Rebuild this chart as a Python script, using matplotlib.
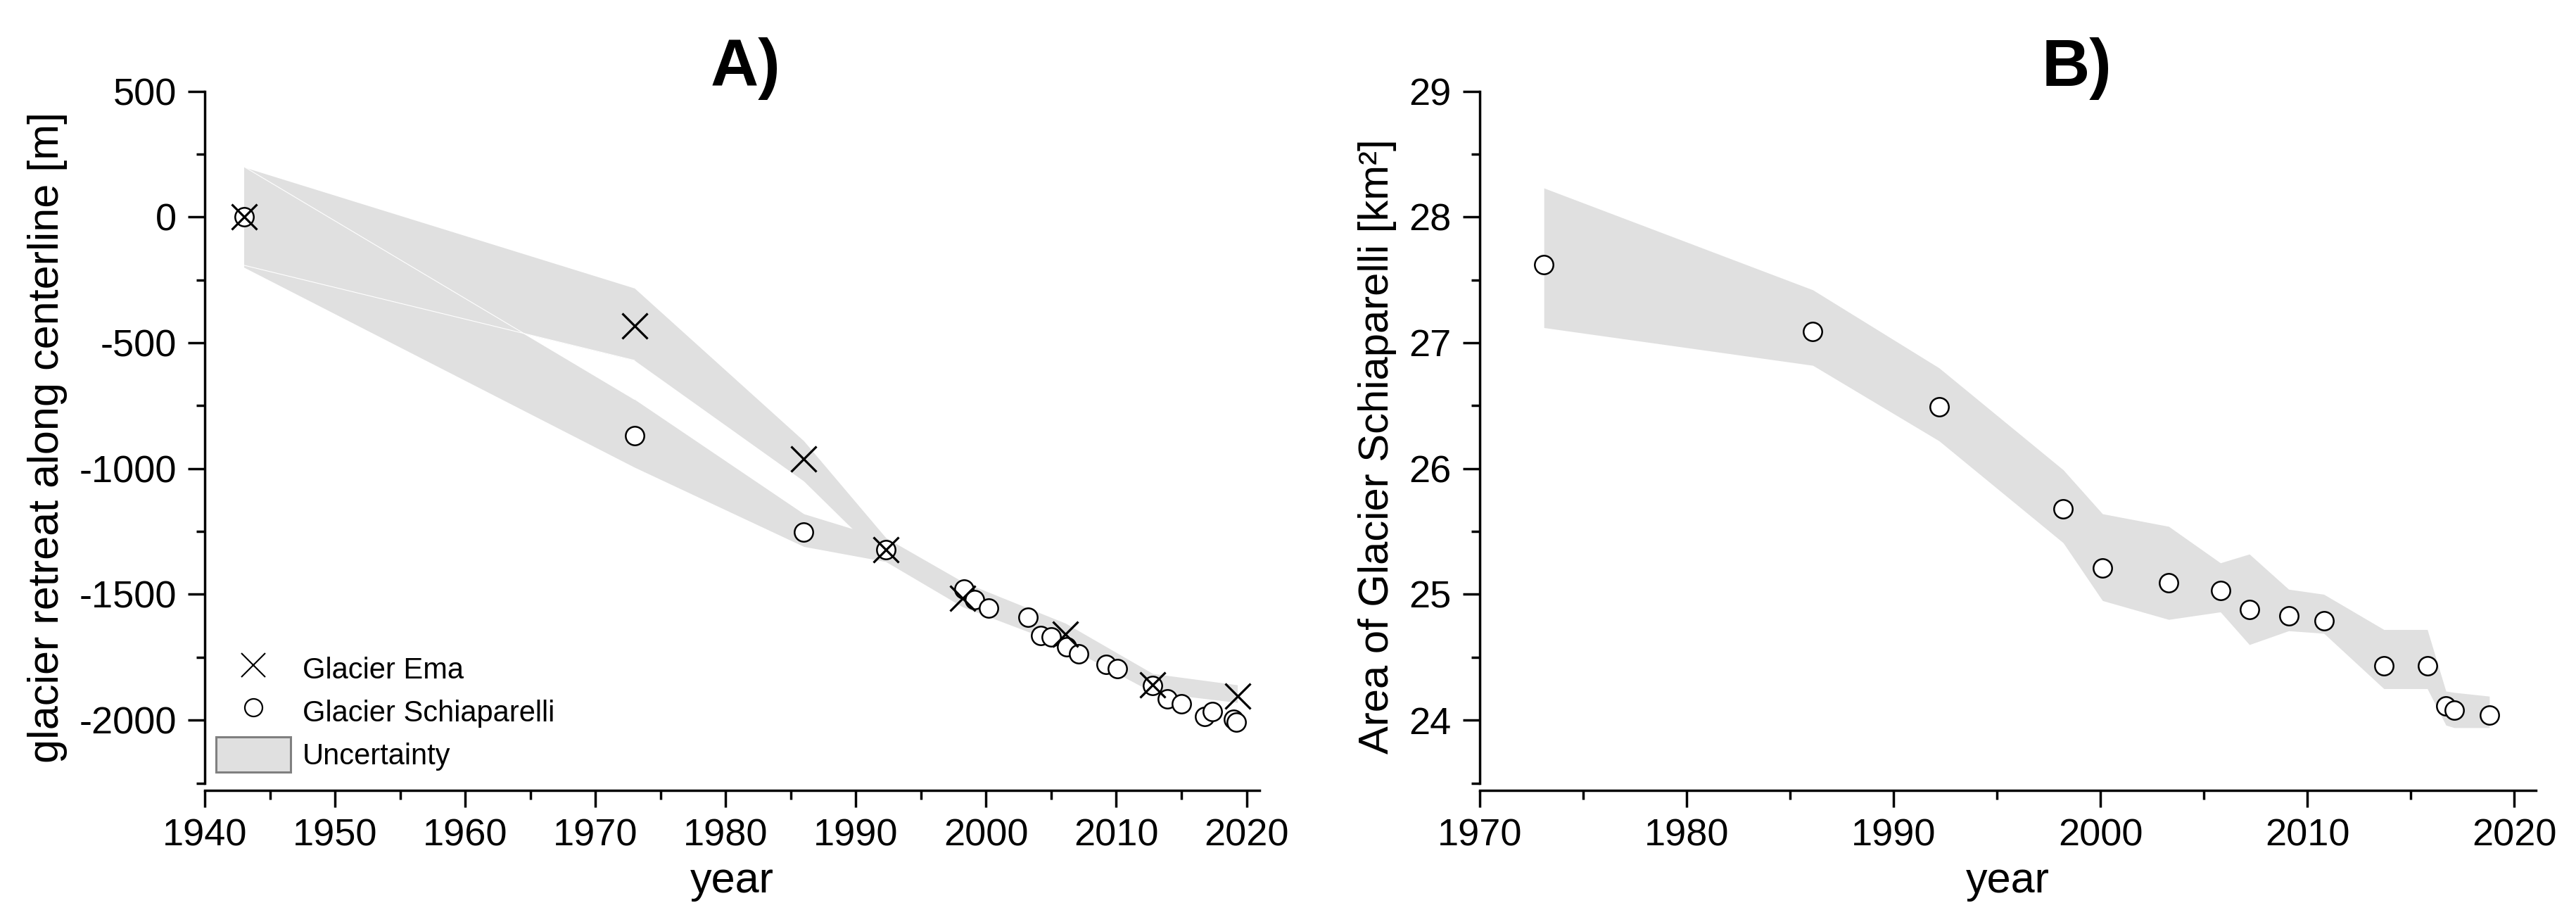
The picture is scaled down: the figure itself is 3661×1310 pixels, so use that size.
import matplotlib
import matplotlib.pyplot as plt
import matplotlib.ticker as mticker
from matplotlib.lines import Line2D
from matplotlib.patches import Patch
matplotlib.use('Agg')

plt.rcParams['font.family'] = ['Liberation Sans', 'DejaVu Sans']
plt.rcParams['axes.unicode_minus'] = False

# panel A: glacier retreat along centerline [m]
ema_year = [1943.0, 1973.0, 1986.0, 1992.3, 1998.2, 2006.1, 2012.8, 2019.3]
ema_retreat = [0, -432, -962, -1322, -1515, -1658, -1860, -1905]
ema_band_hi = [198, -283, -890, -1275, -1450, -1615, -1815, -1860]
ema_band_lo = [-192, -570, -1050, -1370, -1550, -1705, -1890, -1930]

sch_year = [1943.0, 1973.0, 1986.0, 1992.3, 1998.3, 1999.1, 2000.2, 2003.2,
            2004.2, 2005.0, 2006.2, 2007.1, 2009.2, 2010.1, 2012.8, 2013.9,
            2015.0, 2016.8, 2017.4, 2019.0, 2019.2]
sch_retreat = [0, -870, -1253, -1322, -1480, -1520, -1555, -1592,
               -1664, -1670, -1710, -1737, -1778, -1795, -1862, -1917,
               -1934, -1985, -1967, -1998, -2008]
sch_band_year = [1943.0, 1973.0, 1986.0, 1992.3]
sch_band_hi = [200, -725, -1180, -1280]
sch_band_lo = [-200, -995, -1310, -1370]

# panel B: area of Glacier Schiaparelli [km2]
area_year = [1973.1, 1986.1, 1992.2, 1998.2, 2000.1, 2003.3, 2005.8, 2007.2,
             2009.1, 2010.8, 2013.7, 2015.8, 2016.7, 2017.1, 2018.8]
area = [27.62, 27.09, 26.49, 25.68, 25.21, 25.09, 25.03, 24.88,
        24.83, 24.79, 24.43, 24.43, 24.11, 24.08, 24.04]
area_hi = [28.23, 27.42, 26.80, 25.99, 25.64, 25.54, 25.25, 25.32,
           25.04, 25.00, 24.72, 24.72, 24.23, 24.22, 24.19]
area_lo = [27.12, 26.82, 26.22, 25.41, 24.95, 24.80, 24.86, 24.60,
           24.71, 24.69, 24.25, 24.25, 23.96, 23.94, 23.94]

band = '#e0e0e0'
tick_fs = 39
label_fs = 44


def style_axes(ax, ymin, ymax, ymajor, yminor):
    for side in ['top', 'right']:
        ax.spines[side].set_visible(False)
    for side in ['left', 'bottom']:
        ax.spines[side].set_linewidth(2.5)
    ax.spines['bottom'].set_position(('outward', 7.2))
    ax.set_ylim(ymin, ymax)
    ax.yaxis.set_major_locator(mticker.MultipleLocator(ymajor))
    ax.yaxis.set_minor_locator(mticker.MultipleLocator(yminor))
    ax.xaxis.set_major_locator(mticker.MultipleLocator(10))
    ax.xaxis.set_minor_locator(mticker.MultipleLocator(5))
    ax.tick_params(which='major', direction='out', length=17, width=2.5,
                   labelsize=tick_fs, pad=12)
    ax.tick_params(which='minor', direction='out', length=9, width=2.5)


def panel_a(fig):
    ax = fig.add_axes([0.07947, 0.15076, 0.40934, 0.75038])
    ax.fill_between(ema_year, ema_band_lo, ema_band_hi, color=band, lw=0)
    ax.fill_between(sch_band_year, sch_band_lo, sch_band_hi, color=band, lw=0)
    # thin seams where the two bands overlap
    ax.plot(sch_band_year[:2], sch_band_hi[:2], color='white', lw=0.8)
    ax.plot(ema_year[:2], ema_band_lo[:2], color='white', lw=0.8)

    ax.plot(sch_year, sch_retreat, ls='none', marker='o', ms=19,
            mfc='white', mec='black', mew=1.8)
    ax.plot(ema_year, ema_retreat, ls='none', marker='x', ms=26,
            color='black', mew=2.3)

    style_axes(ax, -2250, 500, 500, 250)
    ax.set_xlim(1940, 2021)
    ax.set_xlabel('year', fontsize=label_fs)
    ax.set_ylabel('glacier retreat along centerline [m]', fontsize=label_fs)
    ax.xaxis.set_label_coords(0.5, -0.113)
    ax.yaxis.set_label_coords(-0.130, 0.5)
    ax.text(0.513, 1.0076, 'A)', transform=ax.transAxes, ha='center',
            va='baseline', fontsize=68, fontweight='bold')

    handles = [Line2D([], [], ls='none', marker='x', ms=24, mew=1.5, color='black'),
               Line2D([], [], ls='none', marker='o', ms=18, mfc='white',
                      mec='black', mew=1.6),
               Patch(facecolor=band, edgecolor='#808080', lw=2.2)]
    labels = ['Glacier Ema', 'Glacier Schiaparelli', 'Uncertainty']
    ax.legend(handles, labels, loc='lower left', bbox_to_anchor=(0.0107, 0.0158),
              frameon=False, borderpad=0, borderaxespad=0, fontsize=30,
              handlelength=2.54, handleheight=1.47, handletextpad=0.41,
              labelspacing=0.26)


def panel_b(fig):
    ax = fig.add_axes([0.57428, 0.15076, 0.40989, 0.75038])
    ax.fill_between(area_year, area_lo, area_hi, color=band, lw=0)
    ax.plot(area_year, area, ls='none', marker='o', ms=19,
            mfc='white', mec='black', mew=1.8)

    style_axes(ax, 23.5, 29, 1, 0.5)
    ax.set_xlim(1970, 2021.05)
    ax.set_xlabel('year', fontsize=label_fs)
    ax.set_ylabel('Area of Glacier Schiaparelli [km²]', fontsize=43)
    ax.xaxis.set_label_coords(0.5, -0.113)
    ax.yaxis.set_label_coords(-0.0786, 0.487)
    ax.text(0.565, 1.0076, 'B)', transform=ax.transAxes, ha='center',
            va='baseline', fontsize=68, fontweight='bold')


def main():
    fig = plt.figure(figsize=(36.62, 13.10), dpi=100)
    panel_a(fig)
    panel_b(fig)
    fig.savefig('out.png', dpi=100, facecolor='white')


if __name__ == '__main__':
    main()
